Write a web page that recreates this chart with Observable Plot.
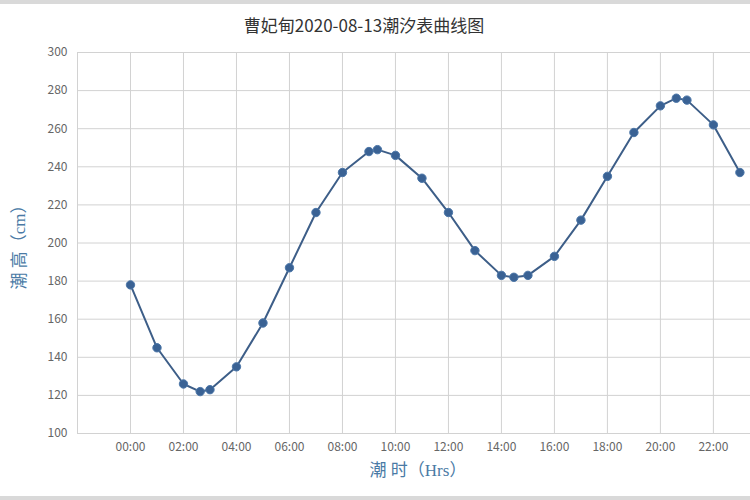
<!DOCTYPE html>
<html><head><meta charset="utf-8">
<script src="https://cdn.jsdelivr.net/npm/d3@7"></script>
<script src="https://cdn.jsdelivr.net/npm/@observablehq/plot@0.6"></script>
<style>
body{margin:0;background:#d9d9d9;}
#wrap{position:relative;width:750px;height:500px;background:#fff;overflow:hidden;font-family:"Noto Sans CJK SC","Noto Sans",sans-serif;}
#title{position:absolute;left:0;top:13px;width:728px;text-align:center;font-size:17px;color:#333;line-height:24px;}
#ylab{position:absolute;left:20px;top:243px;transform:translate(-50%,-50%) rotate(-90deg);font-size:17px;color:#4a7aa5;white-space:nowrap;line-height:20px;font-family:"Liberation Serif","Noto Sans CJK SC",serif;}
#xlab{position:absolute;left:418px;top:471px;transform:translate(-50%,-50%);font-size:17px;color:#4a7aa5;white-space:nowrap;line-height:20px;font-family:"Liberation Serif","Noto Sans CJK SC",serif;}
#topbar{position:absolute;left:0;top:0;width:750px;height:4px;background:#d9d9d9;}
#botbar{position:absolute;left:0;top:496px;width:750px;height:4px;background:#d9d9d9;}
svg{position:absolute;left:0;top:0;}
</style></head><body>
<div id="wrap">
<div id="title">曹妃甸2020-08-13潮汐表曲线图</div>
<div id="ylab">潮 高（cm）</div>
<div id="xlab">潮 时（Hrs）</div>
</div>
<script>
const hours = [0, 1, 2, 2.63, 3, 4, 5, 6, 7, 8, 9, 9.32, 10, 11, 12, 13, 14, 14.47, 15, 16, 17, 18, 19, 20, 20.6, 21, 22, 23];
const heights = [178, 145, 126, 122, 123, 135, 158, 187, 216, 237, 248, 249, 246, 234, 216, 196, 183, 182, 183, 193, 212, 235, 258, 272, 276, 275, 262, 237];
const xTicks = [0, 2, 4, 6, 8, 10, 12, 14, 16, 18, 20, 22];
const xTickLabels = ["00:00","02:00","04:00","06:00","08:00","10:00","12:00","14:00","16:00","18:00","20:00","22:00"];
const yTicks = [100, 120, 140, 160, 180, 200, 220, 240, 260, 280, 300];

const data = hours.map((h, i) => ({h, v: heights[i]}));

const chart = Plot.plot({
  width: 750,
  height: 500,
  marginLeft: 77,
  marginRight: 0,
  marginTop: 52,
  marginBottom: 67,
  style: {fontFamily: '"Noto Sans CJK SC","Noto Sans",sans-serif', fontSize: "12px", background: "transparent", color: "#666"},
  x: {domain: [-2, 23.4], axis: null},
  y: {domain: [100, 300], axis: null},
  marks: [
    Plot.gridY(yTicks, {stroke: "#d2d2d2", strokeOpacity: 1, strokeWidth: 1}),
    Plot.gridX([-2, ...xTicks], {stroke: "#d2d2d2", strokeOpacity: 1, strokeWidth: 1}),
    Plot.axisY(yTicks, {tickSize: 0, tickPadding: 10, fill: "#666", fontSize: 12, label: null}),
    Plot.axisX(xTicks, {tickSize: 0, tickPadding: 9, fill: "#666", fontSize: 12, label: null,
      tickFormat: (d) => xTickLabels[xTicks.indexOf(d)]}),
    Plot.line(data, {x: "h", y: "v", stroke: "#3d5e88", strokeWidth: 2}),
    Plot.dot(data, {x: "h", y: "v", r: 4.2, fill: "#3a6294", stroke: "#4b76a8", strokeWidth: 1})
  ]
});
document.getElementById("wrap").prepend(chart);
const tb = document.createElement("div"); tb.id = "topbar"; document.getElementById("wrap").appendChild(tb);
const bb = document.createElement("div"); bb.id = "botbar"; document.getElementById("wrap").appendChild(bb);
</script>
</body></html>
